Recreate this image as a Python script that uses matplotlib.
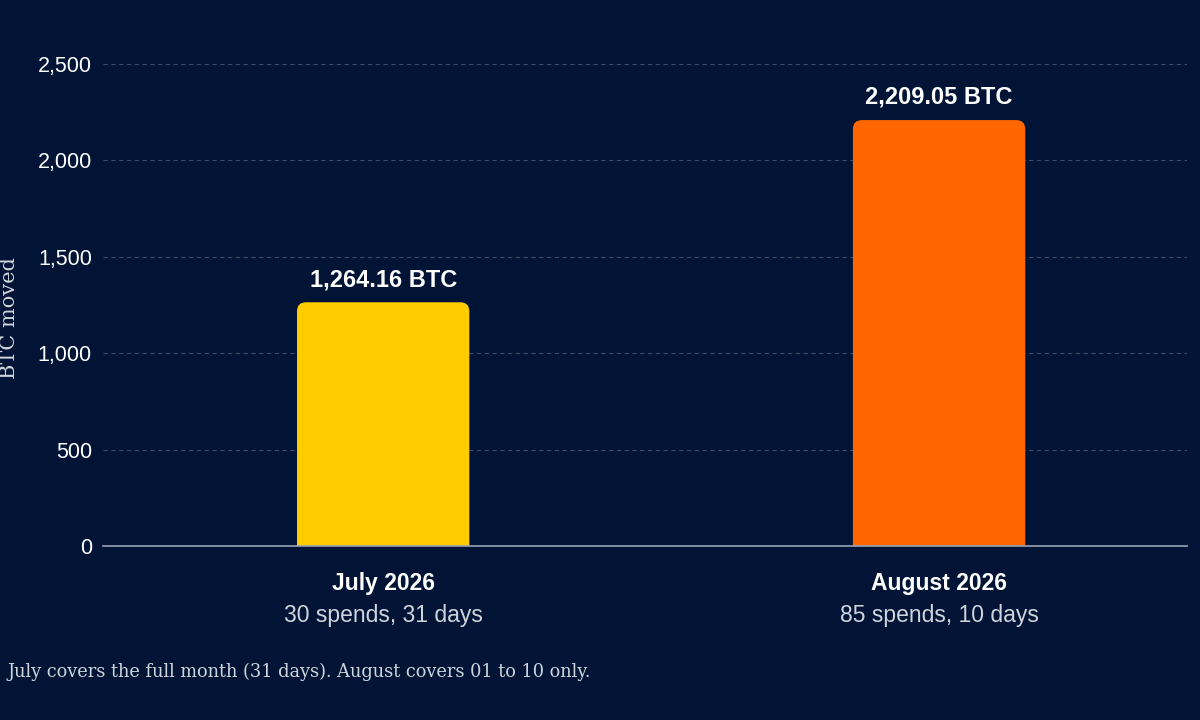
import matplotlib.pyplot as plt
from matplotlib.patches import FancyBboxPatch
from matplotlib.ticker import FuncFormatter

months = ['July 2026', 'August 2026']
details = ['30 spends, 31 days', '85 spends, 10 days']
btc_moved = [1264.16, 2209.05]
colors = ['#FFCC00', '#FF6600']
note = 'July covers the full month (31 days). August covers 01 to 10 only.'

bg = '#011435'
plt.rcParams['font.family'] = ['Liberation Sans', 'DejaVu Sans']

fig = plt.figure(figsize=(12, 7.2), dpi=100, facecolor=bg)
# axes placed in pixel terms: left 103, right 1187, bottom y=546
ax = fig.add_axes([103/1200, 1 - 546/720, 1084/1200, (546 - 20)/720])
ax.set_facecolor(bg)

x = list(range(len(months)))
bars = ax.bar(x, btc_moved, width=0.31, color=colors, zorder=3)

ax.set_xlim(-0.504, 1.446)
ymax = 2500 * (546 - 20) / (546 - 64)
ax.set_ylim(0, ymax)
ax.set_yticks([0, 500, 1000, 1500, 2000, 2500])
ax.yaxis.set_major_formatter(FuncFormatter(lambda v, p: f'{v:,.0f}'))
ax.tick_params(axis='y', colors='white', labelsize=15.5, length=0, pad=8)
ax.set_xticks([])

for s in ['top', 'right', 'left']:
    ax.spines[s].set_visible(False)
ax.spines['bottom'].set_color('#9aa3b5')
ax.spines['bottom'].set_linewidth(1.2)
ax.spines['bottom'].set_zorder(4)

ax.yaxis.grid(True, color='#3f4a63', linestyle=(0, (4, 3)), linewidth=0.8)
ax.set_axisbelow(True)

# swap plain bars for rounded-top ones
fig.canvas.draw()
px_x = ax.transData.transform((1, 0))[0] - ax.transData.transform((0, 0))[0]
px_y = ax.transData.transform((0, 1))[1] - ax.transData.transform((0, 0))[1]
r = 9 / px_x
for b in bars:
    b.set_visible(False)
    p = FancyBboxPatch((b.get_x(), -200), b.get_width(), b.get_height() + 200,
                       boxstyle=f'round,pad=0,rounding_size={r}',
                       mutation_aspect=px_x / px_y,
                       facecolor=b.get_facecolor(), edgecolor='none', zorder=3)
    ax.add_patch(p)

for xi, v in zip(x, btc_moved):
    ax.annotate(f'{v:,.2f} BTC', (xi, v), xytext=(0, 8), textcoords='offset points',
                ha='center', va='bottom', color='white', fontsize=17, fontweight='bold')

tr = ax.get_xaxis_transform()
for xi, m, d in zip(x, months, details):
    ax.text(xi, -0.072, m, transform=tr, ha='center', va='center',
            color='white', fontsize=16.5, fontweight='bold')
    ax.text(xi, -0.133, d, transform=tr, ha='center', va='center',
            color='#d0d4dc', fontsize=16.5)

fig.text(10/1200, 1 - 318/720, 'BTC moved', rotation=90, ha='center', va='center',
         color='#d0d4dc', fontsize=15, family='DejaVu Serif')
fig.text(8/1200, 1 - 672/720, note, ha='left', va='center',
         color='#d0d4dc', fontsize=12.8, family='DejaVu Serif')

fig.savefig('out.png', dpi=100, facecolor=bg)
